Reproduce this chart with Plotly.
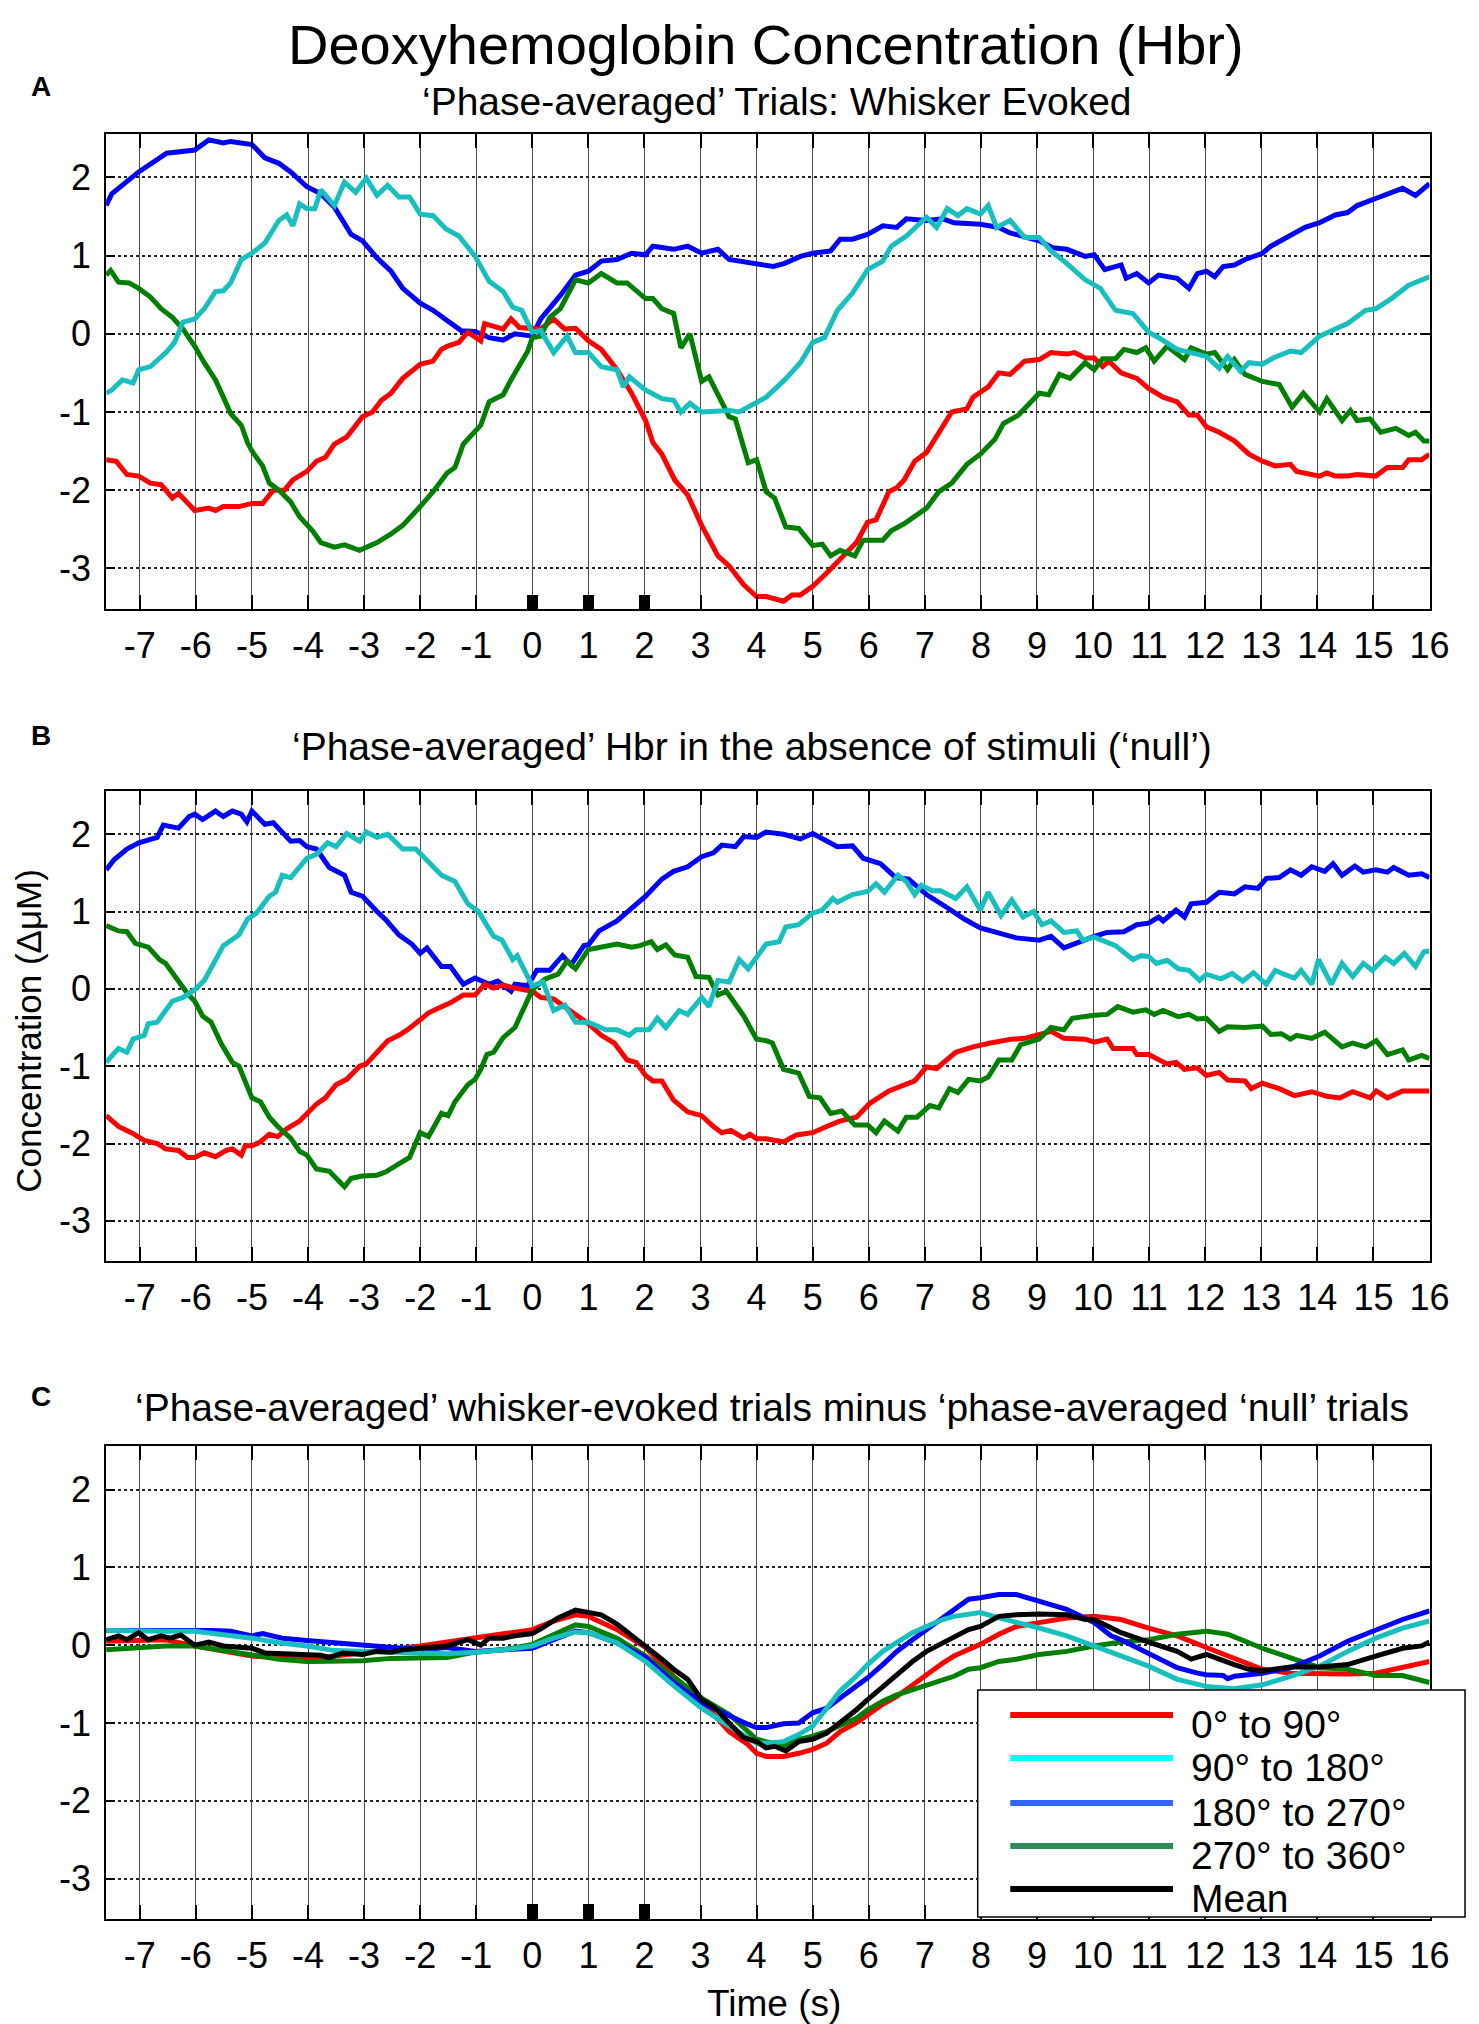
import plotly.graph_objects as go

# ---- data: (time s, concentration uM) ----
A_RED = [(-7.6,-1.61),(-7.42,-1.63),(-7.23,-1.80),(-7.02,-1.82),(-6.81,-1.91),(-6.62,-1.93),(-6.42,-2.10),(-6.31,-2.04),
         (-6.02,-2.26),(-5.77,-2.23),(-5.65,-2.26),(-5.51,-2.21),(-5.23,-2.21),(-5.0,-2.17),(-4.81,-2.17),(-4.62,-2.00),
         (-4.42,-2.00),(-4.27,-1.87),(-4.02,-1.76),(-3.85,-1.63),(-3.69,-1.58),(-3.53,-1.41),(-3.31,-1.32),(-3.03,-1.06),
         (-2.85,-1.00),(-2.69,-0.85),(-2.52,-0.76),(-2.31,-0.57),(-2.0,-0.39),(-1.77,-0.35),(-1.62,-0.20),(-1.52,-0.16),
         (-1.31,-0.11),(-1.15,0.02),(-0.92,-0.09),(-0.85,0.13),(-0.52,0.06),(-0.38,0.19),(-0.23,0.08),(0.0,0.07),
         (0.15,0.06),(0.38,0.19),(0.58,0.06),(0.77,0.07),(1.0,-0.09),(1.23,-0.20),(1.51,-0.46),(1.77,-0.76),(2.02,-1.11),
         (2.15,-1.39),(2.31,-1.54),(2.54,-1.87),(2.77,-2.06),(3.02,-2.45),(3.31,-2.84),(3.51,-2.97),(3.77,-3.21),
         (4.0,-3.36),(4.17,-3.36),(4.48,-3.42),(4.63,-3.34),(4.78,-3.34),(5.0,-3.23),(5.25,-3.06),(5.49,-2.88),
         (5.78,-2.67),(5.98,-2.41),(6.13,-2.38),(6.36,-2.02),(6.5,-1.97),(6.63,-1.87),(6.82,-1.63),(7.03,-1.52),
         (7.25,-1.26),(7.48,-1.00),(7.75,-0.96),(7.86,-0.81),(8.13,-0.68),(8.32,-0.50),(8.52,-0.52),(8.78,-0.35),
         (9.04,-0.33),(9.25,-0.24),(9.53,-0.26),(9.67,-0.24),(9.86,-0.31),(10.02,-0.31),(10.17,-0.42),(10.28,-0.35),
         (10.5,-0.50),(10.78,-0.57),(10.99,-0.70),(11.25,-0.81),(11.5,-0.87),(11.71,-1.04),(11.86,-1.04),(12.02,-1.19),
         (12.25,-1.26),(12.52,-1.37),(12.78,-1.54),(13.02,-1.63),(13.25,-1.69),(13.52,-1.67),(13.63,-1.76),(14.04,-1.82),
         (14.17,-1.78),(14.32,-1.82),(14.54,-1.82),(14.71,-1.80),(15.04,-1.82),(15.25,-1.71),(15.52,-1.71),(15.63,-1.61),
         (15.86,-1.61),(16.0,-1.54)]
A_CYAN = [(-7.6,-0.76),(-7.5,-0.72),(-7.31,-0.59),(-7.12,-0.63),(-7.02,-0.46),(-6.81,-0.42),(-6.52,-0.23),(-6.38,-0.11),
          (-6.23,0.15),(-6.02,0.19),(-5.85,0.32),(-5.65,0.54),(-5.51,0.55),(-5.38,0.65),(-5.19,0.95),(-5.0,1.03),
          (-4.77,1.16),(-4.52,1.45),(-4.38,1.52),(-4.27,1.38),(-4.15,1.66),(-4.02,1.60),(-3.88,1.60),(-3.77,1.84),
          (-3.53,1.64),(-3.35,1.94),(-3.15,1.81),(-2.96,1.99),(-2.77,1.77),(-2.58,1.90),(-2.38,1.75),(-2.19,1.75),
          (-2.0,1.53),(-1.77,1.51),(-1.54,1.34),(-1.31,1.25),(-1.02,0.99),(-0.77,0.67),(-0.52,0.54),(-0.35,0.34),
          (-0.19,0.30),(0.0,0.02),(0.15,0.04),(0.38,-0.24),(0.62,-0.03),(0.77,-0.24),(1.0,-0.24),(1.23,-0.42),
          (1.51,-0.46),(1.62,-0.68),(1.73,-0.55),(2.02,-0.72),(2.31,-0.83),(2.52,-0.85),(2.65,-1.00),(2.81,-0.89),
          (3.02,-1.00),(3.51,-0.98),(3.69,-1.00),(4.0,-0.87),(4.17,-0.81),(4.5,-0.59),(4.78,-0.37),(5.0,-0.11),
          (5.21,-0.05),(5.44,0.30),(5.71,0.52),(5.98,0.82),(6.25,0.93),(6.4,1.12),(6.67,1.25),(7.03,1.49),(7.21,1.36),
          (7.4,1.60),(7.59,1.51),(7.75,1.60),(7.99,1.53),(8.13,1.64),(8.28,1.36),(8.52,1.45),(8.78,1.23),(9.04,1.23),
          (9.25,1.06),(9.53,0.90),(9.86,0.69),(10.13,0.58),(10.4,0.30),(10.71,0.26),(10.99,0.02),(11.17,-0.05),
          (11.5,-0.20),(12.02,-0.29),(12.25,-0.44),(12.4,-0.29),(12.63,-0.48),(12.78,-0.37),(13.02,-0.39),(13.21,-0.31),
          (13.52,-0.22),(13.71,-0.24),(14.04,-0.03),(14.32,0.06),(14.54,0.13),(14.86,0.30),(15.04,0.32),(15.32,0.45),
          (15.63,0.62),(16.0,0.73)]
A_BLUE = [(-7.6,1.64),(-7.5,1.79),(-7.02,2.07),(-6.52,2.31),(-6.02,2.35),(-5.77,2.48),(-5.51,2.44),(-5.38,2.46),
          (-5.0,2.42),(-4.77,2.25),(-4.52,2.18),(-4.31,2.07),(-4.02,1.88),(-3.77,1.79),(-3.53,1.62),(-3.23,1.27),
          (-3.03,1.19),(-2.77,0.97),(-2.52,0.80),(-2.31,0.58),(-2.0,0.39),(-1.77,0.30),(-1.52,0.17),(-1.27,0.04),
          (-1.02,0.03),(-0.77,-0.05),(-0.52,-0.08),(-0.31,0.0),(0.0,-0.03),(0.15,0.19),(0.5,0.49),(0.77,0.75),
          (1.0,0.80),(1.23,0.93),(1.51,0.95),(1.77,1.03),(2.02,1.01),(2.15,1.12),(2.52,1.08),(2.77,1.12),(3.02,1.03),
          (3.31,1.08),(3.51,0.95),(4.0,0.90),(4.3,0.86),(4.5,0.90),(4.78,0.99),(5.0,1.03),(5.32,1.06),(5.49,1.21),
          (5.71,1.21),(5.98,1.27),(6.25,1.38),(6.5,1.36),(6.67,1.47),(7.03,1.45),(7.32,1.47),(7.52,1.42),(7.99,1.40),
          (8.32,1.36),(8.52,1.29),(9.04,1.19),(9.28,1.10),(9.53,1.08),(9.86,0.99),(10.02,1.01),(10.21,0.82),(10.5,0.88),
          (10.59,0.71),(10.78,0.77),(10.99,0.65),(11.17,0.75),(11.5,0.71),(11.71,0.58),(11.86,0.77),(12.02,0.80),
          (12.17,0.73),(12.32,0.86),(12.52,0.88),(12.71,0.95),(13.02,1.03),(13.17,1.12),(13.52,1.25),(13.78,1.36),
          (14.04,1.42),(14.32,1.52),(14.54,1.55),(14.71,1.64),(15.04,1.73),(15.25,1.79),(15.52,1.86),(15.75,1.77),
          (16.0,1.92)]
A_GREEN = [(-7.6,0.75),(-7.52,0.81),(-7.38,0.66),(-7.19,0.65),(-7.02,0.58),(-6.81,0.47),(-6.62,0.32),(-6.42,0.21),
           (-6.23,0.06),(-6.02,-0.16),(-5.85,-0.37),(-5.65,-0.59),(-5.51,-0.81),(-5.38,-1.02),(-5.19,-1.17),(-5.08,-1.39),
           (-5.0,-1.50),(-4.81,-1.69),(-4.69,-1.91),(-4.52,-2.00),(-4.31,-2.15),(-4.15,-2.34),(-3.92,-2.52),(-3.77,-2.67),
           (-3.53,-2.73),(-3.35,-2.70),(-3.08,-2.77),(-2.77,-2.67),(-2.52,-2.56),(-2.31,-2.45),(-2.0,-2.21),(-1.77,-2.02),
           (-1.52,-1.78),(-1.38,-1.71),(-1.23,-1.41),(-1.02,-1.26),(-0.92,-1.17),(-0.77,-0.87),(-0.52,-0.78),(-0.38,-0.59),
           (-0.19,-0.37),(-0.08,-0.22),(0.0,-0.05),(0.15,-0.03),(0.31,0.21),(0.5,0.32),(0.77,0.69),(1.0,0.65),(1.23,0.77),
           (1.51,0.65),(1.69,0.65),(2.02,0.45),(2.15,0.45),(2.31,0.32),(2.52,0.26),(2.65,-0.18),(2.81,0.00),(3.02,-0.61),
           (3.15,-0.55),(3.51,-1.06),(3.62,-1.09),(3.85,-1.65),(4.0,-1.61),(4.17,-2.02),(4.32,-2.10),(4.52,-2.47),
           (4.75,-2.49),(5.0,-2.71),(5.17,-2.69),(5.32,-2.84),(5.49,-2.77),(5.75,-2.84),(5.9,-2.64),(6.25,-2.64),
           (6.4,-2.52),(6.63,-2.43),(7.03,-2.23),(7.25,-2.02),(7.48,-1.91),(7.75,-1.67),(7.99,-1.54),(8.25,-1.35),
           (8.4,-1.15),(8.67,-1.04),(9.04,-0.76),(9.21,-0.78),(9.4,-0.52),(9.59,-0.57),(9.86,-0.37),(10.02,-0.46),
           (10.17,-0.32),(10.4,-0.32),(10.55,-0.20),(10.78,-0.24),(10.94,-0.18),(11.09,-0.35),(11.32,-0.16),(11.63,-0.33),
           (11.75,-0.18),(12.02,-0.26),(12.17,-0.24),(12.4,-0.46),(12.52,-0.33),(12.71,-0.52),(13.02,-0.61),(13.32,-0.65),
           (13.55,-0.94),(13.75,-0.76),(14.04,-1.00),(14.17,-0.83),(14.44,-1.11),(14.59,-0.98),(14.71,-1.11),(14.94,-1.09),
           (15.13,-1.26),(15.4,-1.21),(15.63,-1.30),(15.75,-1.26),(15.9,-1.37),(16.0,-1.37)]

B_RED = [(-7.6,-1.64),(-7.38,-1.78),(-7.15,-1.86),(-6.92,-1.96),(-6.69,-2.00),(-6.54,-2.07),(-6.31,-2.09),(-6.15,-2.18),
         (-6.02,-2.18),(-5.85,-2.12),(-5.65,-2.17),(-5.46,-2.09),(-5.35,-2.07),(-5.19,-2.15),(-5.12,-2.03),(-5.0,-2.03),
         (-4.85,-1.98),(-4.69,-1.88),(-4.54,-1.91),(-4.38,-1.81),(-4.15,-1.71),(-4.02,-1.61),(-3.85,-1.49),(-3.69,-1.41),
         (-3.5,-1.24),(-3.31,-1.17),(-3.08,-1.00),(-2.96,-0.97),(-2.77,-0.82),(-2.58,-0.67),(-2.38,-0.60),(-2.23,-0.53),
         (-2.0,-0.40),(-1.85,-0.31),(-1.62,-0.23),(-1.46,-0.18),(-1.23,-0.08),(-1.02,-0.08),(-0.85,0.06),(-0.69,0.01),
         (-0.52,0.05),(-0.31,0.01),(0.0,-0.03),(0.15,-0.11),(0.38,-0.13),(0.62,-0.26),(0.85,-0.38),(1.0,-0.45),
         (1.23,-0.60),(1.46,-0.70),(1.69,-0.92),(1.85,-0.95),(2.02,-1.12),(2.15,-1.19),(2.31,-1.19),(2.52,-1.44),
         (2.77,-1.59),(3.02,-1.64),(3.23,-1.78),(3.38,-1.86),(3.54,-1.83),(3.77,-1.93),(3.88,-1.88),(4.0,-1.94),
         (4.17,-1.94),(4.48,-1.98),(4.71,-1.89),(5.0,-1.86),(5.25,-1.78),(5.48,-1.71),(5.78,-1.66),(6.02,-1.48),
         (6.36,-1.32),(6.55,-1.27),(6.82,-1.19),(7.03,-1.01),(7.21,-1.03),(7.55,-0.82),(7.86,-0.75),(8.17,-0.70),
         (8.55,-0.65),(8.78,-0.64),(9.04,-0.59),(9.25,-0.55),(9.48,-0.64),(9.86,-0.65),(10.02,-0.69),(10.25,-0.65),
         (10.36,-0.77),(10.71,-0.77),(10.78,-0.85),(10.99,-0.85),(11.32,-0.97),(11.48,-0.95),(11.63,-1.04),(11.86,-1.02),
         (12.02,-1.12),(12.25,-1.08),(12.4,-1.18),(12.71,-1.19),(12.82,-1.29),(13.02,-1.22),(13.32,-1.29),(13.59,-1.38),
         (13.9,-1.33),(14.17,-1.39),(14.4,-1.41),(14.63,-1.33),(14.94,-1.41),(15.05,-1.32),(15.25,-1.41),(15.52,-1.32),
         (15.75,-1.32),(16.0,-1.32)]
B_CYAN = [(-7.6,-0.95),(-7.38,-0.77),(-7.23,-0.82),(-7.12,-0.65),(-6.92,-0.60),(-6.85,-0.45),(-6.69,-0.43),(-6.42,-0.16),
          (-6.23,-0.11),(-6.02,-0.01),(-5.85,0.11),(-5.65,0.38),(-5.51,0.56),(-5.23,0.70),(-5.08,0.90),(-4.92,0.98),
          (-4.69,1.20),(-4.58,1.25),(-4.46,1.47),(-4.31,1.44),(-4.02,1.69),(-3.85,1.74),(-3.65,1.89),(-3.5,1.84),
          (-3.31,2.01),(-3.08,1.91),(-2.96,2.03),(-2.77,1.96),(-2.58,2.00),(-2.31,1.81),(-2.08,1.81),(-1.85,1.64),
          (-1.62,1.47),(-1.38,1.39),(-1.15,1.10),(-0.96,1.00),(-0.69,0.68),(-0.54,0.63),(-0.35,0.38),(-0.27,0.43),
          (0.0,0.04),(0.19,0.09),(0.38,-0.28),(0.58,-0.21),(0.77,-0.43),(1.0,-0.43),(1.31,-0.53),(1.51,-0.53),
          (1.73,-0.60),(1.85,-0.53),(2.08,-0.53),(2.23,-0.38),(2.38,-0.50),(2.62,-0.28),(2.77,-0.33),(3.02,-0.11),
          (3.15,-0.23),(3.31,0.11),(3.51,0.09),(3.69,0.38),(3.85,0.26),(4.17,0.58),(4.4,0.61),(4.52,0.80),(4.75,0.83),
          (5.0,0.98),(5.17,1.02),(5.36,1.17),(5.44,1.12),(5.71,1.22),(5.98,1.26),(6.13,1.36),(6.28,1.25),(6.52,1.47),
          (6.67,1.39),(6.82,1.22),(6.94,1.34),(7.13,1.27),(7.28,1.27),(7.55,1.17),(7.75,1.32),(7.99,1.02),(8.13,1.25),
          (8.36,0.95),(8.55,1.15),(8.75,0.93),(8.94,1.00),(9.09,0.83),(9.25,0.88),(9.48,0.73),(9.71,0.75),(9.82,0.63),
          (10.02,0.67),(10.4,0.56),(10.71,0.38),(10.86,0.43),(10.99,0.42),(11.13,0.33),(11.32,0.37),(11.52,0.26),
          (11.71,0.24),(11.9,0.11),(12.02,0.19),(12.28,0.13),(12.48,0.20),(12.67,0.10),(12.86,0.21),(13.09,0.06),
          (13.25,0.24),(13.4,0.19),(13.59,0.14),(13.71,0.24),(13.9,0.06),(14.02,0.38),(14.25,0.06),(14.44,0.33),
          (14.63,0.16),(14.82,0.33),(14.98,0.24),(15.21,0.41),(15.36,0.33),(15.55,0.46),(15.75,0.29),(15.9,0.48),
          (16.0,0.49)]
B_BLUE = [(-7.6,1.54),(-7.46,1.67),(-7.23,1.81),(-7.02,1.89),(-6.69,1.96),(-6.58,2.12),(-6.31,2.08),(-6.12,2.23),
          (-6.02,2.26),(-5.88,2.19),(-5.65,2.30),(-5.51,2.23),(-5.35,2.30),(-5.19,2.26),(-5.09,2.16),(-5.0,2.30),
          (-4.77,2.13),(-4.62,2.15),(-4.31,1.91),(-4.15,1.92),(-4.02,1.84),(-3.85,1.81),(-3.62,1.57),(-3.35,1.47),
          (-3.23,1.25),(-3.03,1.20),(-2.77,1.00),(-2.62,0.90),(-2.38,0.70),(-2.15,0.58),(-2.0,0.46),(-1.88,0.53),
          (-1.62,0.29),(-1.46,0.29),(-1.23,0.06),(-1.02,0.14),(-0.77,0.06),(-0.62,0.10),(-0.38,-0.03),(-0.31,0.06),
          (-0.08,0.04),(0.08,0.24),(0.31,0.24),(0.54,0.43),(0.69,0.31),(0.92,0.56),(1.0,0.57),(1.19,0.75),(1.51,0.88),
          (1.77,1.05),(2.02,1.20),(2.31,1.42),(2.52,1.52),(2.77,1.58),(3.02,1.71),(3.23,1.76),(3.38,1.86),(3.62,1.84),
          (3.77,1.97),(4.0,1.96),(4.17,2.03),(4.48,2.00),(4.78,1.94),(5.0,2.01),(5.25,1.91),(5.44,1.84),(5.71,1.85),
          (5.9,1.69),(6.21,1.62),(6.48,1.44),(6.71,1.42),(7.03,1.22),(7.4,1.05),(7.71,0.90),(7.99,0.79),(8.32,0.73),
          (8.63,0.66),(9.04,0.63),(9.25,0.68),(9.48,0.53),(9.82,0.63),(10.02,0.68),(10.25,0.73),(10.55,0.74),
          (10.78,0.83),(10.99,0.85),(11.17,0.93),(11.25,0.88),(11.48,1.02),(11.63,0.93),(11.75,1.10),(12.02,1.12),
          (12.25,1.25),(12.52,1.23),(12.71,1.32),(12.94,1.30),(13.09,1.43),(13.32,1.44),(13.52,1.54),(13.71,1.47),
          (13.9,1.58),(14.13,1.52),(14.28,1.62),(14.44,1.47),(14.67,1.59),(14.82,1.51),(15.04,1.54),(15.25,1.51),
          (15.36,1.57),(15.63,1.47),(15.86,1.49),(16.0,1.44)]
B_GREEN = [(-7.6,0.82),(-7.38,0.75),(-7.23,0.74),(-7.08,0.59),(-6.85,0.54),(-6.65,0.38),(-6.54,0.33),(-6.35,0.14),
           (-6.15,-0.06),(-6.02,-0.16),(-5.88,-0.35),(-5.73,-0.43),(-5.54,-0.72),(-5.35,-0.95),(-5.23,-1.00),(-5.0,-1.41),
           (-4.85,-1.46),(-4.69,-1.66),(-4.54,-1.78),(-4.31,-1.93),(-4.15,-2.10),(-4.02,-2.15),(-3.85,-2.33),(-3.62,-2.36),
           (-3.35,-2.56),(-3.23,-2.45),(-3.03,-2.42),(-2.77,-2.41),(-2.62,-2.37),(-2.46,-2.30),(-2.19,-2.18),(-2.0,-1.86),
           (-1.85,-1.91),(-1.62,-1.61),(-1.5,-1.64),(-1.38,-1.46),(-1.15,-1.24),(-1.02,-1.17),(-0.92,-1.04),(-0.81,-0.85),
           (-0.69,-0.82),(-0.52,-0.63),(-0.31,-0.50),(0.0,-0.01),(0.23,0.13),(0.46,0.19),(0.62,0.36),(0.77,0.26),
           (1.0,0.51),(1.15,0.53),(1.51,0.58),(1.77,0.54),(1.92,0.56),(2.12,0.61),(2.23,0.51),(2.38,0.57),(2.54,0.44),
           (2.77,0.41),(2.92,0.16),(3.15,0.15),(3.31,-0.08),(3.46,-0.03),(3.77,-0.35),(4.0,-0.65),(4.17,-0.67),
           (4.28,-0.70),(4.48,-1.04),(4.75,-1.09),(4.94,-1.39),(5.13,-1.41),(5.32,-1.61),(5.52,-1.58),(5.75,-1.76),
           (5.98,-1.76),(6.13,-1.86),(6.28,-1.71),(6.52,-1.84),(6.67,-1.66),(6.86,-1.66),(7.09,-1.51),(7.25,-1.54),
           (7.44,-1.29),(7.59,-1.34),(7.78,-1.17),(7.99,-1.19),(8.13,-1.14),(8.32,-0.92),(8.55,-0.92),(8.71,-0.72),
           (9.04,-0.65),(9.25,-0.50),(9.48,-0.53),(9.63,-0.38),(10.02,-0.34),(10.25,-0.33),(10.44,-0.23),(10.71,-0.30),
           (10.94,-0.27),(11.09,-0.33),(11.25,-0.28),(11.52,-0.36),(11.71,-0.33),(11.86,-0.39),(12.02,-0.38),
           (12.25,-0.55),(12.4,-0.49),(12.71,-0.50),(13.02,-0.48),(13.17,-0.59),(13.36,-0.58),(13.52,-0.65),
           (13.63,-0.60),(13.9,-0.64),(14.13,-0.56),(14.44,-0.75),(14.63,-0.70),(14.86,-0.75),(15.05,-0.67),
           (15.25,-0.85),(15.52,-0.79),(15.63,-0.92),(15.86,-0.86),(16.0,-0.90)]

C_RED = [(-7.6,0.05),(-7.02,0.06),(-6.54,0.07),(-6.02,-0.01),(-5.51,-0.08),(-5.0,-0.14),(-4.52,-0.16),(-4.02,-0.17),
         (-3.53,-0.14),(-3.03,-0.10),(-2.52,-0.06),(-2.0,-0.01),(-1.52,0.04),(-1.02,0.09),(-0.52,0.14),(0.0,0.20),
         (0.38,0.31),(0.77,0.39),(1.0,0.37),(1.51,0.20),(2.02,-0.03),(2.52,-0.40),(3.02,-0.72),(3.51,-1.11),(3.85,-1.28),
         (4.0,-1.39),(4.17,-1.43),(4.48,-1.43),(4.75,-1.39),(5.0,-1.34),(5.25,-1.26),(5.49,-1.11),(5.78,-1.00),
         (5.98,-0.89),(6.25,-0.76),(6.5,-0.66),(6.78,-0.51),(7.03,-0.38),(7.32,-0.23),(7.52,-0.14),(7.78,-0.06),
         (7.99,0.01),(8.32,0.14),(8.63,0.24),(9.04,0.29),(9.53,0.35),(10.02,0.37),(10.5,0.33),(10.99,0.22),(11.5,0.12),
         (12.02,-0.03),(12.52,-0.17),(13.02,-0.31),(13.52,-0.36),(14.04,-0.37),(14.54,-0.37),(15.04,-0.36),
         (15.52,-0.29),(16.0,-0.21)]
C_CYAN = [(-7.6,0.19),(-7.02,0.18),(-6.54,0.18),(-6.02,0.18),(-5.51,0.14),(-5.0,0.09),(-4.52,0.03),(-4.02,-0.01),
          (-3.53,-0.07),(-3.03,-0.08),(-2.52,-0.10),(-2.0,-0.11),(-1.52,-0.11),(-1.02,-0.09),(-0.52,-0.06),(0.0,-0.01),
          (0.38,0.09),(0.77,0.17),(1.0,0.16),(1.51,0.03),(2.02,-0.21),(2.52,-0.52),(3.02,-0.81),(3.51,-1.04),
          (3.85,-1.19),(4.0,-1.26),(4.17,-1.26),(4.48,-1.24),(4.75,-1.15),(5.0,-1.04),(5.25,-0.81),(5.49,-0.59),
          (5.78,-0.40),(5.98,-0.25),(6.25,-0.08),(6.5,0.03),(6.78,0.16),(7.03,0.24),(7.32,0.33),(7.52,0.37),(7.78,0.40),
          (7.99,0.42),(8.32,0.35),(8.63,0.30),(9.04,0.22),(9.53,0.12),(10.02,-0.01),(10.5,-0.14),(10.99,-0.27),
          (11.5,-0.44),(12.02,-0.53),(12.52,-0.56),(13.02,-0.51),(13.52,-0.40),(14.04,-0.27),(14.54,-0.08),(15.04,0.09),
          (15.52,0.22),(16.0,0.31)]
C_BLUE = [(-7.6,0.19),(-7.02,0.19),(-6.02,0.20),(-5.69,0.19),(-5.38,0.18),(-5.0,0.12),(-4.81,0.15),(-4.46,0.09),
          (-4.02,0.06),(-3.53,0.03),(-3.03,-0.01),(-2.52,-0.04),(-2.0,-0.06),(-1.52,-0.03),(-1.02,-0.08),(-0.52,-0.06),
          (0.0,-0.04),(0.38,0.07),(0.77,0.18),(1.0,0.16),(1.51,0.03),(2.02,-0.16),(2.52,-0.48),(3.02,-0.74),(3.51,-0.91),
          (3.85,-1.02),(4.0,-1.06),(4.17,-1.06),(4.48,-1.01),(4.75,-1.00),(5.0,-0.87),(5.25,-0.81),(5.49,-0.68),
          (5.78,-0.53),(5.98,-0.42),(6.25,-0.25),(6.5,-0.08),(6.78,0.07),(7.03,0.20),(7.32,0.35),(7.52,0.46),(7.78,0.59),
          (7.99,0.61),(8.32,0.65),(8.63,0.65),(9.04,0.57),(9.25,0.52),(9.53,0.46),(10.02,0.29),(10.32,0.12),(10.5,0.07),
          (10.99,-0.10),(11.5,-0.29),(11.86,-0.36),(12.02,-0.38),(12.32,-0.39),(12.4,-0.43),(12.52,-0.40),(13.02,-0.36),
          (13.52,-0.29),(14.04,-0.14),(14.54,0.05),(15.04,0.20),(15.52,0.33),(16.0,0.44)]
C_GREEN = [(-7.6,-0.06),(-7.02,-0.03),(-6.54,-0.01),(-6.02,-0.01),(-5.51,-0.07),(-5.0,-0.12),(-4.52,-0.18),(-4.02,-0.21),
           (-3.53,-0.21),(-3.03,-0.20),(-2.52,-0.17),(-2.0,-0.17),(-1.52,-0.16),(-1.02,-0.09),(-0.52,-0.06),(0.0,0.01),
           (0.38,0.14),(0.77,0.26),(1.0,0.24),(1.51,0.09),(2.02,-0.14),(2.52,-0.42),(3.02,-0.68),(3.51,-0.89),
           (3.85,-1.11),(4.0,-1.21),(4.17,-1.24),(4.48,-1.30),(4.75,-1.21),(5.0,-1.17),(5.25,-1.11),(5.49,-1.04),
           (5.78,-0.94),(5.98,-0.83),(6.25,-0.72),(6.5,-0.64),(6.78,-0.57),(7.03,-0.51),(7.32,-0.44),(7.52,-0.40),
           (7.78,-0.31),(7.99,-0.29),(8.32,-0.21),(8.63,-0.18),(9.04,-0.12),(9.53,-0.08),(10.02,-0.01),(10.5,0.04),
           (10.99,0.07),(11.5,0.14),(12.02,0.18),(12.4,0.14),(13.02,-0.04),(13.52,-0.16),(14.04,-0.29),(14.54,-0.31),
           (15.04,-0.39),(15.52,-0.39),(16.0,-0.48)]
C_MEAN = [(-7.6,0.07),(-7.38,0.12),(-7.23,0.07),(-7.02,0.16),(-6.85,0.07),(-6.62,0.12),(-6.46,0.09),(-6.27,0.13),
          (-6.02,0.0),(-5.77,0.04),(-5.51,-0.01),(-5.0,-0.04),(-4.77,-0.10),(-4.31,-0.11),(-4.02,-0.12),(-3.77,-0.13),
          (-3.62,-0.16),(-3.38,-0.10),(-3.03,-0.12),(-2.77,-0.08),(-2.52,-0.09),(-2.31,-0.06),(-2.0,-0.04),(-1.52,-0.01),
          (-1.15,0.07),(-0.92,0.0),(-0.77,0.09),(-0.52,0.09),(-0.31,0.12),(0.0,0.15),(0.15,0.21),(0.46,0.35),(0.77,0.45),
          (1.0,0.42),(1.23,0.39),(1.51,0.27),(2.02,-0.01),(2.31,-0.18),(2.52,-0.31),(2.77,-0.44),(3.02,-0.70),
          (3.23,-0.79),(3.51,-1.00),(3.77,-1.19),(4.0,-1.24),(4.17,-1.32),(4.32,-1.30),(4.52,-1.36),(4.75,-1.24),
          (5.0,-1.21),(5.25,-1.13),(5.49,-1.00),(5.78,-0.83),(5.98,-0.70),(6.25,-0.53),(6.5,-0.38),(6.78,-0.21),
          (7.03,-0.08),(7.32,0.03),(7.52,0.09),(7.78,0.20),(7.99,0.24),(8.32,0.37),(8.63,0.39),(9.04,0.40),(9.53,0.39),
          (9.86,0.33),(10.02,0.33),(10.5,0.16),(10.99,0.04),(11.5,-0.08),(11.75,-0.18),(12.02,-0.12),(12.52,-0.25),
          (12.78,-0.31),(13.02,-0.33),(13.52,-0.28),(14.04,-0.28),(14.54,-0.25),(15.04,-0.14),(15.32,-0.08),
          (15.52,-0.04),(15.86,-0.01),(16.0,0.04)]

STIM_TIMES = [0, 1, 2]
X_TICKS = list(range(-7, 17))
Y_TICKS = [-3, -2, -1, 0, 1, 2]
LEGEND_LABELS = ["0° to 90°", "90° to 180°", "180° to 270°", "270° to 360°", "Mean"]

TITLE = "Deoxyhemoglobin Concentration (Hbr)"
SUBTITLES = ["‘Phase-averaged’ Trials: Whisker Evoked",
             "‘Phase-averaged’ Hbr in the absence of stimuli (‘null’)",
             "‘Phase-averaged’ whisker-evoked trials minus ‘phase-averaged ‘null’ trials"]

# ---- styling ----
W, H = 1479, 2024
FONT = "Liberation Sans, Arial, sans-serif"
XRANGE = [-7.6, 16]
YRANGE = [-3.52, 2.56]
XDOM = [99.5 / W, 1441 / W]
# plot boxes in pixels (top, bottom)
BOXES = [(125.6, 601), (783, 1253), (1438, 1911)]
COLORS = {"red": "#ff0000", "cyan": "#17bfbf", "blue": "#0000ff", "green": "#007f00", "black": "#000000"}
LEG_COLORS = ["#ff0000", "#00ffff", "#3366ff", "#2e8b57", "#000000"]


def py(px):
    return 1 - px / H


def add_line(fig, pts, color, k):
    t, v = zip(*pts)
    fig.add_trace(go.Scatter(x=list(t), y=list(v), mode="lines",
                             line=dict(color=color, width=5),
                             xaxis=f"x{k}", yaxis=f"y{k}", hoverinfo="skip"))


def add_stim(fig, k):
    fig.add_trace(go.Bar(x=STIM_TIMES, y=[0.19] * len(STIM_TIMES), base=YRANGE[0], width=0.2,
                         marker=dict(color="black", line=dict(width=0)),
                         xaxis=f"x{k}", yaxis=f"y{k}", hoverinfo="skip"))


fig = go.Figure()

panels = [
    [(A_BLUE, "blue"), (A_RED, "red"), (A_GREEN, "green"), (A_CYAN, "cyan")],
    [(B_BLUE, "blue"), (B_RED, "red"), (B_GREEN, "green"), (B_CYAN, "cyan")],
    [(C_RED, "red"), (C_GREEN, "green"), (C_BLUE, "blue"), (C_CYAN, "cyan"), (C_MEAN, "black")],
]
for k, series in enumerate(panels, start=1):
    for pts, c in series:
        add_line(fig, pts, COLORS[c], k)
    if k != 2:
        add_stim(fig, k)

layout = dict(
    width=W, height=H,
    margin=dict(l=0, r=0, t=0, b=0),
    paper_bgcolor="white", plot_bgcolor="white",
    showlegend=False,
    font=dict(family=FONT, size=36, color="black"),
)

for k, (top, bot) in enumerate(BOXES, start=1):
    sfx = "" if k == 1 else str(k)
    layout["xaxis" + sfx] = dict(
        domain=XDOM, range=XRANGE, anchor="y" + sfx,
        tickvals=X_TICKS, ticktext=[str(v) for v in X_TICKS],
        showgrid=True, gridcolor="#4a4a4a", gridwidth=1,
        ticks="inside", ticklen=14, tickwidth=1.5, tickcolor="black",
        showline=True, linecolor="black", linewidth=2, mirror="ticks",
        zeroline=False, tickfont=dict(size=36), ticklabelstandoff=4,
    )
    layout["yaxis" + sfx] = dict(
        domain=[py(bot), py(top)], range=YRANGE, anchor="x" + sfx,
        tickvals=Y_TICKS, ticktext=[str(v) for v in Y_TICKS],
        showgrid=True, gridcolor="#262626", gridwidth=1.5, griddash="dot",
        ticks="inside", ticklen=9, tickwidth=1.5, tickcolor="black",
        showline=True, linecolor="black", linewidth=2, mirror="ticks",
        zeroline=False, tickfont=dict(size=36), ticklabelstandoff=6,
    )

annotations = [
    dict(text=TITLE, x=768 / W, y=py(36), font=dict(size=56)),
    dict(text=SUBTITLES[0], x=780 / W, y=py(93), font=dict(size=39)),
    dict(text=SUBTITLES[1], x=754 / W, y=py(738), font=dict(size=39)),
    dict(text=SUBTITLES[2], x=774 / W, y=py(1399), font=dict(size=39)),
    dict(text="<b>A</b>", x=33 / W, y=py(79), font=dict(size=28)),
    dict(text="<b>B</b>", x=33 / W, y=py(727), font=dict(size=28)),
    dict(text="<b>C</b>", x=33 / W, y=py(1388), font=dict(size=28)),
    dict(text="Time (s)", x=777 / W, y=py(1995), font=dict(size=37)),
    dict(text="Concentration (ΔμM)", x=20 / W, y=py(1023), textangle=-90, font=dict(size=35)),
]

# legend box drawn by hand (long line samples as in the original)
shapes = [dict(type="rect", xref="paper", yref="paper", x0=983 / W, x1=1477 / W, y0=py(1909), y1=py(1682),
               fillcolor="white", line=dict(color="black", width=1.5), layer="above")]
row_y = [1707, 1750, 1795, 1838, 1881]
for lab, col, ry in zip(LEGEND_LABELS, LEG_COLORS, row_y):
    shapes.append(dict(type="line", xref="paper", yref="paper", x0=1016 / W, x1=1181 / W, y0=py(ry), y1=py(ry),
                       line=dict(color=col, width=6), layer="above"))
    annotations.append(dict(text=lab, x=1197 / W, y=py(ry + 9), xanchor="left", font=dict(size=39)))

for a in annotations:
    a.setdefault("xref", "paper")
    a.setdefault("yref", "paper")
    a.setdefault("showarrow", False)
    a.setdefault("xanchor", "center")
    a.setdefault("yanchor", "middle")

layout["annotations"] = annotations
layout["shapes"] = shapes
layout["bargap"] = 0
fig.update_layout(**layout)

fig.write_html("out.html")
